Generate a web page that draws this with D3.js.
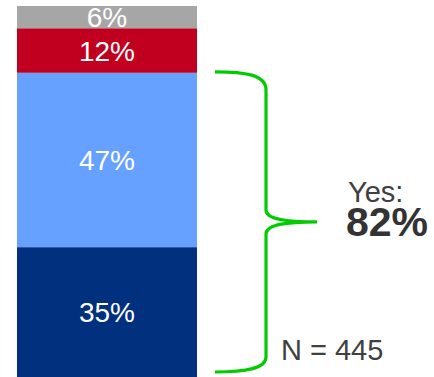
<!DOCTYPE html>
<html>
<head>
  <meta charset="utf-8">
  <title>Stacked bar</title>
  <style>
    body { margin: 0; background: #fff; }
    svg { display: block; font-family: "Liberation Sans", Arial, sans-serif; }
  </style>
</head>
<body>
  <svg id="chart"></svg>

  <script src="https://d3js.org/d3.v7.min.js"></script>
  <script>
    // data, bottom to top
    const segments = ["a", "b", "c", "d"];
    const values = [35, 47, 12, 6];
    const colors = ["#00307e", "#66a1ff", "#c0001e", "#a6a6a6"];
    const labels = ["35%", "47%", "12%", "6%"];
    const yesValue = 82;
    const yesLabel = "82%";
    const nLabel = "N = 445";

    const width = 434;
    const height = 377;

    const svg = d3.select("#chart")
      .attr("width", width)
      .attr("height", height);

    // scales
    const x = d3.scaleBand().domain(["bar"]).range([17, 197]).padding(0);
    const y = d3.scaleLinear().domain([0, 100]).range([377, 6]);

    // stacking
    const stacked = [];
    let acc = 0;
    values.forEach((v, i) => {
      stacked.push({ key: segments[i], y0: acc, y1: acc + v, color: colors[i], label: labels[i] });
      acc += v;
    });

    const g = svg.append("g");

    g.selectAll("rect")
      .data(stacked)
      .enter().append("rect")
      .attr("x", x("bar"))
      .attr("width", x.bandwidth())
      .attr("y", d => y(d.y1))
      .attr("height", d => y(d.y0) - y(d.y1))
      .attr("fill", d => d.color);

    g.selectAll("text.seg")
      .data(stacked)
      .enter().append("text")
      .attr("class", "seg")
      .attr("x", x("bar") + x.bandwidth() / 2)
      .attr("y", d => (y(d.y0) + y(d.y1)) / 2)
      .attr("dy", "0.36em")
      .attr("text-anchor", "middle")
      .attr("fill", "#fff")
      .attr("font-size", 28)
      .text(d => d.label);

    // brace over the "yes" part
    const bTop = y(yesValue) - 1;
    const bBot = y(0) - 5;
    const bMid = (bTop + bBot) / 2;
    const x0 = 215, xv = 266, xt = 317;

    const brace = d3.path();
    brace.moveTo(x0, bTop);
    brace.bezierCurveTo(245, bTop, xv, bTop + 3, xv, bTop + 18);
    brace.lineTo(xv, bMid - 12);
    brace.bezierCurveTo(xv, bMid - 2, 290, bMid, xt, bMid);
    brace.bezierCurveTo(290, bMid, xv, bMid + 2, xv, bMid + 12);
    brace.lineTo(xv, bBot - 15);
    brace.bezierCurveTo(xv, bBot - 3, 245, bBot, x0, bBot);

    svg.append("path")
      .attr("d", brace.toString())
      .attr("fill", "none")
      .attr("stroke", "#00cc00")
      .attr("stroke-width", 3.2);

    svg.append("text")
      .attr("x", 348)
      .attr("y", 202)
      .attr("fill", "#404040")
      .attr("font-size", 29)
      .text("Yes:");

    svg.append("text")
      .attr("x", 346)
      .attr("y", 236)
      .attr("fill", "#333")
      .attr("font-size", 41)
      .attr("font-weight", "bold")
      .text(yesLabel);

    svg.append("text")
      .attr("x", 281)
      .attr("y", 360)
      .attr("fill", "#404040")
      .attr("font-size", 29)
      .text(nLabel);
  </script>
</body>
</html>
